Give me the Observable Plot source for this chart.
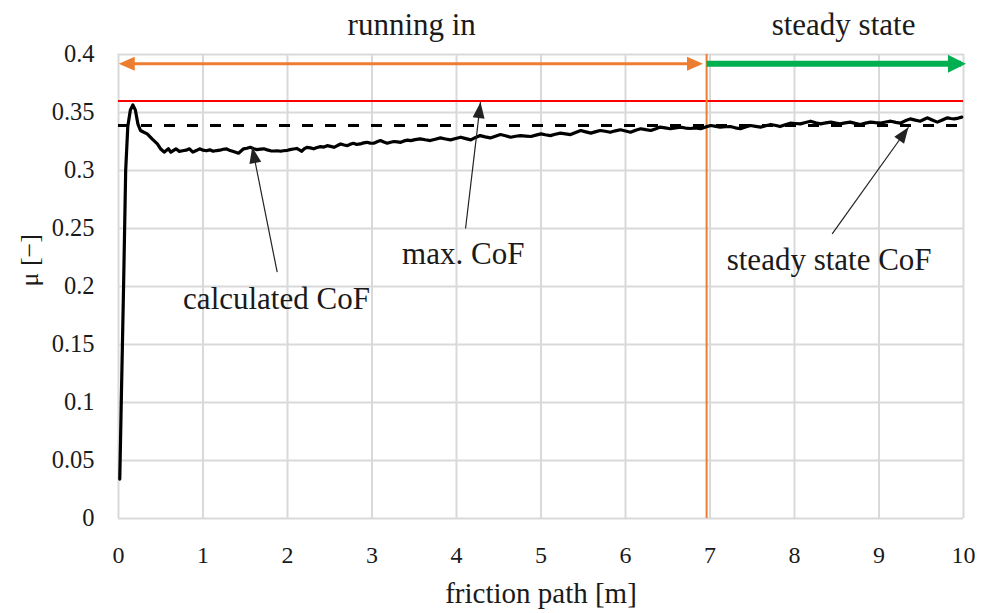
<!DOCTYPE html>
<html>
<head>
<meta charset="utf-8">
<script src="https://cdn.jsdelivr.net/npm/d3@7"></script>
<script src="https://cdn.jsdelivr.net/npm/@observablehq/plot@0.6"></script>
<style>
  html, body { margin: 0; padding: 0; background: #fff; }
</style>
</head>
<body>
<div id="chart"></div>
<script>
// ---- data ----
const frictionPath = [
  0.015, 0.03, 0.06, 0.085, 0.11, 0.14, 0.17, 0.2, 0.23, 0.26, 0.3, 0.34, 0.4, 0.46, 0.5, 0.54, 0.59, 0.62, 0.68, 0.72,
  0.76, 0.8, 0.84, 0.88, 0.92, 0.96, 1.0, 1.04, 1.08, 1.12, 1.16, 1.2, 1.24, 1.28, 1.32, 1.36, 1.42, 1.48, 1.52, 1.56,
  1.6, 1.64, 1.68, 1.72, 1.76, 1.8, 1.84, 1.88, 1.92, 1.95, 2.0, 2.03, 2.07, 2.11, 2.14, 2.17, 2.2, 2.23, 2.27, 2.31,
  2.35, 2.39, 2.43, 2.47, 2.51, 2.55, 2.59, 2.63, 2.67, 2.71, 2.75, 2.78, 2.82, 2.86, 2.9, 2.94, 2.98, 3.02, 3.06, 3.1,
  3.14, 3.18, 3.22, 3.26, 3.3, 3.34, 3.38, 3.42, 3.46, 3.51, 3.57, 3.63, 3.69, 3.75, 3.81, 3.87, 3.93, 3.99, 4.05, 4.11,
  4.17, 4.22, 4.28, 4.34, 4.4, 4.46, 4.52, 4.58, 4.64, 4.7, 4.76, 4.82, 4.88, 4.94, 5.0, 5.05, 5.11, 5.17, 5.23, 5.29,
  5.35, 5.41, 5.47, 5.53, 5.59, 5.65, 5.7, 5.76, 5.82, 5.88, 5.94, 6.0, 6.06, 6.12, 6.18, 6.24, 6.3, 6.36, 6.41, 6.47,
  6.53, 6.59, 6.65, 6.71, 6.77, 6.83, 6.89, 6.95, 7.01, 7.07, 7.12, 7.18, 7.24, 7.3, 7.36, 7.42, 7.48, 7.54, 7.6, 7.66,
  7.72, 7.78, 7.83, 7.89, 7.95, 8.01, 8.07, 8.13, 8.19, 8.25, 8.31, 8.37, 8.43, 8.49, 8.54, 8.6, 8.66, 8.72, 8.78, 8.84,
  8.9, 8.96, 9.02, 9.08, 9.14, 9.2, 9.25, 9.31, 9.37, 9.43, 9.49, 9.53, 9.57, 9.63, 9.69, 9.75, 9.81, 9.85, 9.89, 9.94,
  9.98
];
const calculatedCoF = [
  0.034, 0.09, 0.2, 0.3, 0.338, 0.352, 0.3566, 0.352, 0.34, 0.3345, 0.333, 0.3316, 0.327, 0.323, 0.3185, 0.3158, 0.3187, 0.3158, 0.3187, 0.3165,
  0.317, 0.3175, 0.3187, 0.3158, 0.3172, 0.3187, 0.3175, 0.317, 0.3178, 0.3166, 0.3172, 0.3175, 0.3183, 0.3187, 0.3172, 0.3163, 0.3149, 0.3187, 0.3192, 0.32,
  0.3188, 0.318, 0.3184, 0.3187, 0.3178, 0.317, 0.3168, 0.317, 0.3166, 0.317, 0.3174, 0.318, 0.3185, 0.319, 0.3178, 0.3166, 0.3188, 0.32, 0.3195, 0.3187,
  0.3198, 0.3206, 0.3202, 0.3214, 0.3208, 0.32, 0.3215, 0.3229, 0.322, 0.3214, 0.3228, 0.3235, 0.3225, 0.3229, 0.3238, 0.3243, 0.3236, 0.3235, 0.3248, 0.3258,
  0.3245, 0.3235, 0.3244, 0.325, 0.3247, 0.3243, 0.3255, 0.3262, 0.3258, 0.3266, 0.3273, 0.3265, 0.3258, 0.327, 0.3281, 0.3272, 0.3264, 0.3276, 0.3287, 0.3275,
  0.3264, 0.3283, 0.3301, 0.329, 0.3281, 0.3296, 0.331, 0.33, 0.3287, 0.3295, 0.3301, 0.3297, 0.3293, 0.3305, 0.3316, 0.3308, 0.3301, 0.3312, 0.3322, 0.3316,
  0.331, 0.3328, 0.3345, 0.3333, 0.3322, 0.3335, 0.3345, 0.3338, 0.333, 0.3342, 0.3351, 0.334, 0.333, 0.3347, 0.336, 0.3352, 0.3345, 0.336, 0.3374, 0.3367,
  0.336, 0.3368, 0.3374, 0.3366, 0.3362, 0.3368, 0.336, 0.3376, 0.3388, 0.338, 0.3374, 0.3377, 0.3379, 0.3368, 0.336, 0.3375, 0.3388, 0.3381, 0.3374, 0.3386,
  0.3397, 0.3388, 0.3379, 0.3394, 0.3408, 0.3405, 0.3402, 0.3414, 0.3425, 0.3412, 0.3402, 0.341, 0.3417, 0.3408, 0.3402, 0.341, 0.3417, 0.3406, 0.3397, 0.3408,
  0.3417, 0.3412, 0.3408, 0.3418, 0.3425, 0.3415, 0.3408, 0.3428, 0.3445, 0.3434, 0.3425, 0.344, 0.3454, 0.3435, 0.3417, 0.3436, 0.3454, 0.3448, 0.3445, 0.3452,
  0.346
];
const maxCoF = 0.36;
const steadyStateCoF = 0.3388;
const phaseBoundary = 6.96;
const phaseLabels = ["running in", "steady state"];
const phaseLabelX = [3.47, 8.58];
const xTicks = [0, 1, 2, 3, 4, 5, 6, 7, 8, 9, 10];
const xTickLabels = ["0", "1", "2", "3", "4", "5", "6", "7", "8", "9", "10"];
const yTicks = [0, 0.05, 0.1, 0.15, 0.2, 0.25, 0.3, 0.35, 0.4];
const yTickLabels = ["0", "0.05", "0.1", "0.15", "0.2", "0.25", "0.3", "0.35", "0.4"];
const annotationLabels = ["calculated CoF", "max. CoF", "steady state CoF"];
const annotationLabelX = [1.87, 4.08, 8.41];
const annotationLabelY = [0.181, 0.2198, 0.2138];
const arrowTailX = [1.878, 4.107, 8.446];
const arrowTailY = [0.2123, 0.25, 0.2454];
const arrowTipX = [1.582, 4.284, 9.349];
const arrowTipY = [0.3201, 0.3589, 0.3373];

// ---- tables ----
const curve = frictionPath.map((x, i) => ({x, y: calculatedCoF[i]}));
const annotations = annotationLabels.map((t, i) => ({
  text: t, x: annotationLabelX[i], y: annotationLabelY[i],
  x1: arrowTailX[i], y1: arrowTailY[i], x2: arrowTipX[i], y2: arrowTipY[i]
}));
const phases = phaseLabels.map((t, i) => ({text: t, x: phaseLabelX[i]}));

// filled triangular arrow head marker
function head(len, wid, ext) {
  return (color) => {
    const ns = "http://www.w3.org/2000/svg";
    const m = document.createElementNS(ns, "marker");
    m.setAttribute("viewBox", `${-len - ext} ${-wid / 2} ${len + ext} ${wid}`);
    m.setAttribute("markerUnits", "userSpaceOnUse");
    m.setAttribute("markerWidth", len + ext);
    m.setAttribute("markerHeight", wid);
    m.setAttribute("refX", -ext);
    m.setAttribute("refY", 0);
    m.setAttribute("orient", "auto-start-reverse");
    m.setAttribute("overflow", "visible");
    const p = document.createElementNS(ns, "path");
    p.setAttribute("d", `M${-len},${-wid / 2}L0,0L${-len},${wid / 2}Z`);
    p.setAttribute("fill", color);
    p.setAttribute("stroke", "none");
    m.appendChild(p);
    return m;
  };
}

const ORANGE = "#ed7d31";
const GREEN = "#00b050";
const RED = "#ff0000";
const FONT = "'Liberation Serif', 'Times New Roman', serif";

const chart = Plot.plot({
  width: 983,
  height: 613,
  marginLeft: 118,
  marginRight: 20,
  marginTop: 54,
  marginBottom: 95,
  style: {fontFamily: FONT, fontSize: "24px", color: "#1a1a1a", background: "#fff", overflow: "visible"},
  x: {domain: [0, 10]},
  y: {domain: [0, 0.4]},
  marks: [
    Plot.gridX({ticks: xTicks, stroke: "#d9d9d9", strokeOpacity: 1, strokeWidth: 2}),
    Plot.gridY({ticks: yTicks, stroke: "#d9d9d9", strokeOpacity: 1, strokeWidth: 2}),
    Plot.axisX({ticks: xTicks, tickSize: 0, tickPadding: 27, fontSize: 24, fontFamily: FONT, label: null,
      tickFormat: (d, i) => xTickLabels[i]}),
    Plot.axisY({ticks: yTicks, tickSize: 0, tickPadding: 24, fontSize: 24.5, fontFamily: FONT, label: null,
      tickFormat: (d, i) => yTickLabels[i]}),
    Plot.text(["friction path [m]"], {frameAnchor: "bottom", dy: 84, lineAnchor: "bottom", fontSize: 29, fill: "#1a1a1a"}),
    Plot.text(["μ [−]"], {frameAnchor: "left", dx: -89, rotate: -90, fontSize: 26, fill: "#1a1a1a"}),
    Plot.ruleY([maxCoF], {x1: 0, x2: 10, stroke: RED, strokeWidth: 2}),
    Plot.ruleY([steadyStateCoF], {x1: 0, x2: 10, stroke: "#000", strokeWidth: 3, strokeDasharray: "11,12"}),
    Plot.ruleX([phaseBoundary], {y1: 0, y2: 0.4, stroke: ORANGE, strokeWidth: 2}),
    Plot.link([{x1: 0.05, x2: phaseBoundary - 0.09}], {x1: "x1", x2: "x2", y1: 0.392, y2: 0.392,
      stroke: ORANGE, strokeWidth: 3, markerStart: head(16, 14, 4), markerEnd: head(16, 14, 4)}),
    Plot.link([{x1: phaseBoundary, x2: 9.97}], {x1: "x1", x2: "x2", y1: 0.392, y2: 0.392,
      stroke: GREEN, strokeWidth: 6, markerEnd: head(18, 18, 5)}),
    Plot.line(curve, {x: "x", y: "y", stroke: "#000", strokeWidth: 3.2, strokeLinejoin: "round"}),
    Plot.link(annotations, {x1: "x1", y1: "y1", x2: "x2", y2: "y2", stroke: "#222", strokeWidth: 1.2,
      markerEnd: head(16, 12, 0)}),
    Plot.text(annotations, {x: "x", y: "y", text: "text", lineAnchor: "bottom", fontSize: 31, fill: "#1a1a1a"}),
    Plot.text(phases, {x: "x", y: 0.4164, text: "text", lineAnchor: "bottom", fontSize: 31, fill: "#1a1a1a"})
  ]
});
document.getElementById("chart").appendChild(chart);
</script>
</body>
</html>
